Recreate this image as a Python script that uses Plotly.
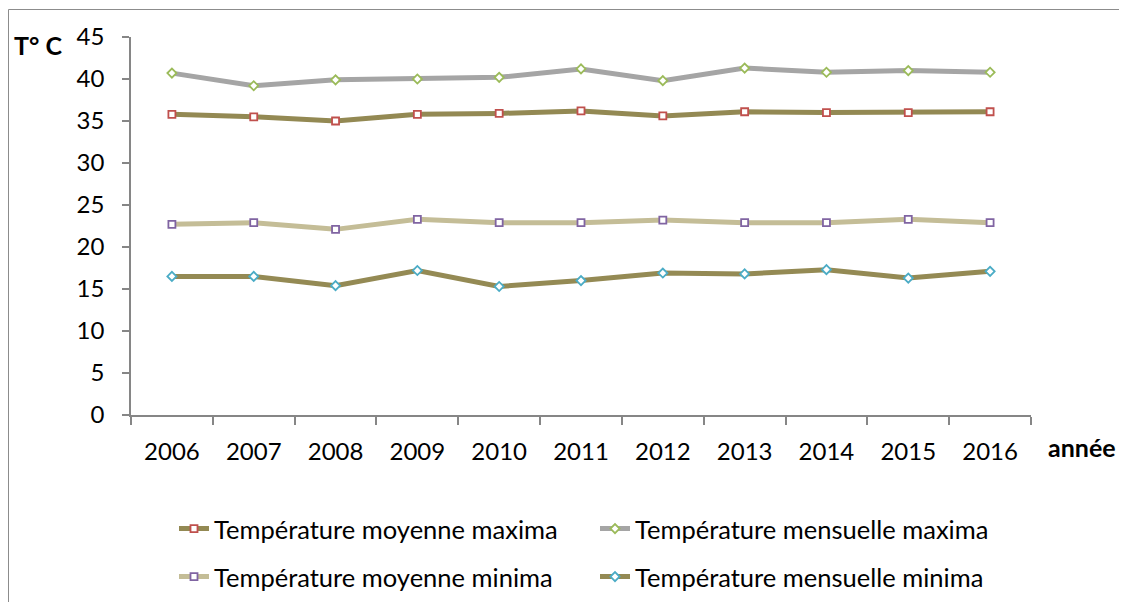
import plotly.graph_objects as go

years = ["2006", "2007", "2008", "2009", "2010", "2011", "2012", "2013", "2014", "2015", "2016"]
moy_max = [35.8, 35.5, 35.0, 35.8, 35.9, 36.2, 35.6, 36.1, 36.0, 36.0, 36.1]
mens_max = [40.7, 39.2, 39.9, 40.0, 40.2, 41.2, 39.8, 41.3, 40.8, 41.0, 40.8]
moy_min = [22.7, 22.9, 22.1, 23.3, 22.9, 22.9, 23.2, 22.9, 22.9, 23.3, 22.9]
mens_min = [16.5, 16.5, 15.4, 17.2, 15.3, 16.0, 16.9, 16.8, 17.3, 16.3, 17.1]

names = ["Température moyenne maxima", "Température mensuelle maxima",
         "Température moyenne minima", "Température mensuelle minima"]

FONT = "Lato"
FS_TICK = 24
FS_LEG = 25.5
FS_TITLE = 25
# page body has an 8px margin: figure fills the rest of the 1127x610 window
OFF = 8
W, H = 1127 - 2 * OFF, 610 - 2 * OFF
L, T = 131 - OFF, 37 - OFF
PR, PB = 1031 - OFF, 415 - OFF
R, B = W - PR, H - PB
PW, PH = PR - L, PB - T

def px(x):
    return (x - OFF - L) / PW

def py(y):
    return (PB - (y - OFF)) / PH

fig = go.Figure()

def add(y, name, lcol, sym, mcol, legend):
    fig.add_trace(go.Scatter(
        x=years, y=y, name=name, mode="lines+markers",
        line=dict(color=lcol, width=5),
        marker=dict(symbol=sym, size=7, color="white", line=dict(color=mcol, width=1.8)),
        legend=legend,
    ))

add(mens_min, names[3], "#948A54", "diamond", "#4BACC6", "legend2")
add(moy_min, names[2], "#C4BD97", "square", "#8064A2", "legend2")
add(moy_max, names[0], "#938953", "square", "#C0504D", "legend")
add(mens_max, names[1], "#A5A5A5", "diamond", "#9BBB59", "legend")

axis_col = "#868686"

fig.update_layout(
    width=W, height=H,
    margin=dict(l=L, r=R, t=T, b=B, autoexpand=False),
    paper_bgcolor="white", plot_bgcolor="white",
    font=dict(family=FONT, size=FS_TICK, color="black"),
    showlegend=True,
    legend=dict(orientation="h", x=px(174), xanchor="left",
                y=py(529), yanchor="middle",
                entrywidth=376, entrywidthmode="pixels",
                traceorder="normal", font=dict(family=FONT, size=FS_LEG),
                bgcolor="rgba(0,0,0,0)"),
    legend2=dict(orientation="h", x=px(174), xanchor="left",
                 y=py(577), yanchor="middle",
                 entrywidth=376, entrywidthmode="pixels",
                 traceorder="reversed", font=dict(family=FONT, size=FS_LEG),
                 bgcolor="rgba(0,0,0,0)"),
    xaxis=dict(type="category", range=[-0.5, 10.5], tickson="boundaries",
               showline=True, linecolor=axis_col, linewidth=1.5,
               ticks="outside", ticklen=8, tickcolor=axis_col, tickwidth=1.5,
               showgrid=False, zeroline=False, ticklabelstandoff=14,
               automargin=False,
               tickfont=dict(family=FONT, size=FS_TICK)),
    yaxis=dict(range=[0, 45], dtick=5, tick0=0,
               showline=True, linecolor=axis_col, linewidth=1.5,
               ticks="outside", ticklen=7, tickcolor=axis_col, tickwidth=1.5,
               showgrid=False, zeroline=False, ticklabelstandoff=13,
               automargin=False,
               tickfont=dict(family=FONT, size=FS_TICK)),
)

fig.add_shape(type="rect", xref="paper", yref="paper",
              x0=px(8.5), x1=px(1140),
              y0=py(640), y1=py(9.5),
              line=dict(color="#8C8C8C", width=1), layer="below")

fig.add_annotation(text="<b>T° C</b>", xref="paper", yref="paper",
                   x=px(38), y=py(45),
                   xanchor="center", yanchor="middle", showarrow=False,
                   font=dict(family=FONT, size=FS_TITLE))
fig.add_annotation(text="<b>année</b>", xref="paper", yref="paper",
                   x=px(1082), y=py(447),
                   xanchor="center", yanchor="middle", showarrow=False,
                   font=dict(family=FONT, size=FS_TITLE))

fig.write_html("out.html")
